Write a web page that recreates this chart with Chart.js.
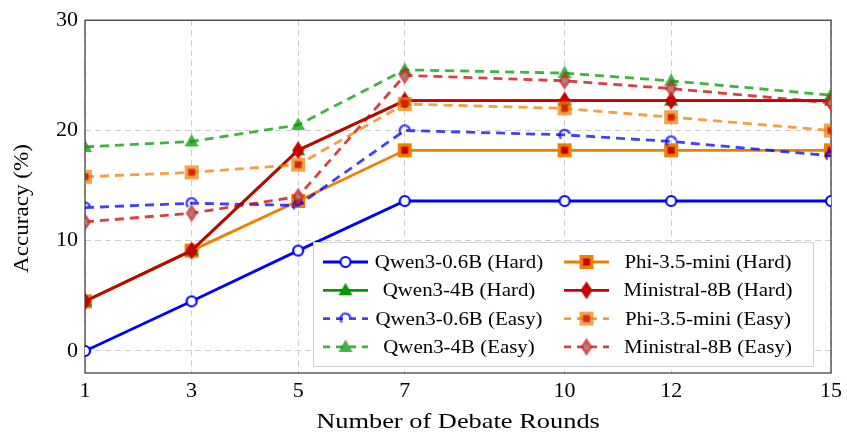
<!DOCTYPE html>
<html>
<head>
<meta charset="utf-8">
<script src="https://cdn.jsdelivr.net/npm/chart.js@4"></script>
<style>
  html, body { margin: 0; padding: 0; background: #fff; }
</style>
</head>
<body>
<canvas id="accChart" width="847" height="437"></canvas>
<script>
// data
const rounds = [1, 3, 5, 7, 10, 12, 15];
const yTicks = [0, 10, 20, 30];

const qwen06Hard = [0, 4.5, 9.1, 13.6, 13.6, 13.6, 13.6];
const phiHard = [4.5, 9.1, 13.6, 18.2, 18.2, 18.2, 18.2];
const qwen4bHard = [4.5, 9.1, 18.2, 22.7, 22.7, 22.7, 22.7];
const ministralHard = [4.5, 9.1, 18.2, 22.7, 22.7, 22.7, 22.7];
const qwen06Easy = [13.0, 13.4, 13.2, 20.0, 19.6, 19.0, 17.7];
const phiEasy = [15.8, 16.2, 16.9, 22.4, 22.0, 21.2, 20.0];
const qwen4bEasy = [18.5, 19.0, 20.5, 25.5, 25.2, 24.5, 23.2];
const ministralEasy = [11.7, 12.5, 14.0, 25.0, 24.5, 23.8, 22.5];

const xTitle = 'Number of Debate Rounds';
const yTitle = 'Accuracy (%)';

const FONT = '"Liberation Serif", "DejaVu Serif", serif';

// little canvases used as point styles
function marker(kind, stroke, fill, alpha) {
    const c = document.createElement('canvas');
    c.width = 26; c.height = 26;
    const g = c.getContext('2d');
    g.translate(13, 13);
    g.globalAlpha = alpha || 1;
    if (kind === 'circle') {
        g.beginPath(); g.arc(0, 0, 5, 0, 2 * Math.PI);
        g.fillStyle = '#fff'; g.fill();
        g.lineWidth = 2.2; g.strokeStyle = stroke; g.stroke();
    } else if (kind === 'arc') {
        g.rotate(-0.35);
        g.beginPath(); g.arc(0, 0, 5, 0.85 * Math.PI, 2.05 * Math.PI);
        g.lineWidth = 2.4; g.strokeStyle = stroke; g.stroke();
    } else if (kind === 'triangle') {
        g.beginPath(); g.moveTo(0, -7.5); g.lineTo(7, 5); g.lineTo(-7, 5); g.closePath();
        g.fillStyle = stroke; g.fill();
    } else if (kind === 'square') {
        g.fillStyle = stroke; g.fillRect(-7, -7, 14, 14);
        g.fillStyle = fill; g.fillRect(-3.5, -3.5, 7, 7);
    } else if (kind === 'diamond') {
        g.beginPath(); g.moveTo(0, -9); g.lineTo(6, 0); g.lineTo(0, 9); g.lineTo(-6, 0); g.closePath();
        g.fillStyle = stroke; g.fill();
        if (fill) {
            g.beginPath(); g.arc(0, 0, 2.6, 0, 2 * Math.PI);
            g.fillStyle = fill; g.fill();
        }
    }
    return c;
}

const BLUE = 'rgb(0,0,255)', BLUE_E = 'rgba(0,0,255,0.75)';
const GREEN = 'rgb(0,153,0)', GREEN_E = 'rgba(0,153,0,0.75)';
const ORANGE = 'rgb(240,127,0)', ORANGE_E = 'rgba(240,127,0,0.75)';
const RED = 'rgb(200,0,0)', RED_E = 'rgba(204,0,0,0.75)';

function series(label, values, color, point, dashed) {
    return {
        label: label,
        data: values.map((v, i) => ({ x: rounds[i], y: v })),
        borderColor: color,
        backgroundColor: color,
        borderWidth: 2.8,
        borderDash: dashed ? [9, 6] : [],
        pointStyle: point,
        pointRadius: 6,
        tension: 0
    };
}

const datasets = [
    series('Qwen3-0.6B (Hard)', qwen06Hard, BLUE, marker('circle', BLUE), false),
    series('Phi-3.5-mini (Hard)', phiHard, ORANGE, marker('square', ORANGE, RED), false),
    series('Qwen3-4B (Hard)', qwen4bHard, GREEN, marker('triangle', GREEN), false),
    series('Ministral-8B (Hard)', ministralHard, RED, marker('diamond', RED), false),
    series('Qwen3-0.6B (Easy)', qwen06Easy, BLUE_E, marker('arc', BLUE, null, 0.75), true),
    series('Phi-3.5-mini (Easy)', phiEasy, ORANGE_E, marker('square', ORANGE, RED, 0.72), true),
    series('Qwen3-4B (Easy)', qwen4bEasy, GREEN_E, marker('triangle', GREEN, null, 0.75), true),
    series('Ministral-8B (Easy)', ministralEasy, RED_E, marker('diamond', 'rgb(210,40,40)', 'rgb(150,150,150)', 0.8), true)
];
// later series sit on top, like the original
datasets.forEach((d, i) => { d.order = datasets.length - i; });

// text drawn a little wider, closer to the TeX font of the original
function wideText(ctx, text, x, y, stretch, rot) {
    ctx.save();
    ctx.translate(x, y);
    if (rot) ctx.rotate(rot);
    ctx.scale(stretch, 1);
    ctx.fillText(text, 0, 0);
    ctx.restore();
}

// frame and axis titles
const framePlugin = {
    id: 'frame',
    beforeDatasetsDraw(chart) {
        const a = chart.chartArea, ctx = chart.ctx;
        ctx.save();
        ctx.strokeStyle = '#333';
        ctx.lineWidth = 1.2;
        ctx.strokeRect(a.left, a.top, a.right - a.left, a.bottom - a.top);
        ctx.fillStyle = '#000';
        ctx.textAlign = 'center';
        ctx.textBaseline = 'middle';
        ctx.font = '22px ' + FONT;
        wideText(ctx, xTitle, (a.left + a.right) / 2, 422, 1.2, 0);
        wideText(ctx, yTitle, 22, (a.top + a.bottom) / 2 + 12, 1.05, -Math.PI / 2);
        ctx.restore();
    }
};

// two column legend inside the plot, text centred in its cell
const boxLegend = {
    id: 'boxLegend',
    afterDatasetsDraw(chart) {
        const ctx = chart.ctx, a = chart.chartArea;
        const bx = a.right - 518, by = a.bottom - 131, bw = 500, bh = 124;
        ctx.save();
        ctx.fillStyle = '#fff';
        ctx.fillRect(bx, by, bw, bh);
        ctx.strokeStyle = '#d0d0d0';
        ctx.lineWidth = 1;
        ctx.strokeRect(bx + 0.5, by + 0.5, bw, bh);
        ctx.font = '19px ' + FONT;
        ctx.fillStyle = '#000';
        ctx.textAlign = 'center';
        ctx.textBaseline = 'middle';
        chart.data.datasets.forEach((ds, i) => {
            const col = i % 2, row = Math.floor(i / 2);
            const x0 = bx + 10 + col * 241;
            const y = by + 20 + row * 28.3;
            ctx.beginPath();
            ctx.setLineDash(ds.borderDash.length ? [7, 6] : []);
            ctx.strokeStyle = ds.borderColor;
            ctx.lineWidth = 2.8;
            ctx.moveTo(x0, y); ctx.lineTo(x0 + 45, y);
            ctx.stroke();
            ctx.setLineDash([]);
            const m = ds.pointStyle;
            ctx.drawImage(m, x0 + 22.5 - m.width / 2, y - m.height / 2);
            wideText(ctx, ds.label, x0 + 136 + col * 8, y + 1, 1.1, 0);
        });
        ctx.restore();
    }
};

const ctx = document.getElementById('accChart').getContext('2d');
const accChart = new Chart(ctx, {
    type: 'line',
    data: { datasets: datasets },
    plugins: [framePlugin, boxLegend],
    options: {
        responsive: false,
        animation: false,
        layout: { padding: { top: 13, right: 14, left: 0, bottom: 0 } },
        plugins: { legend: { display: false }, tooltip: { enabled: false } },
        scales: {
            x: {
                type: 'linear',
                min: 1,
                max: 15,
                afterBuildTicks: s => { s.ticks = rounds.map(v => ({ value: v })); },
                afterFit: s => { s.height = 64; },
                ticks: { font: { family: FONT, size: 22 }, color: '#000', padding: 5, maxRotation: 0, autoSkip: false },
                grid: { color: '#cccccc', lineWidth: 1, drawTicks: false },
                border: { display: false, dash: [6, 4] },
                title: { display: false }
            },
            y: {
                min: -2,
                max: 30,
                afterBuildTicks: s => { s.ticks = yTicks.map(v => ({ value: v })); },
                afterFit: s => { s.width = 85; },
                ticks: { font: { family: FONT, size: 22 }, color: '#000', padding: 7 },
                grid: { color: '#cccccc', lineWidth: 1, drawTicks: false },
                border: { display: false, dash: [6, 4] },
                title: { display: false }
            }
        }
    }
});
</script>
</body>
</html>
